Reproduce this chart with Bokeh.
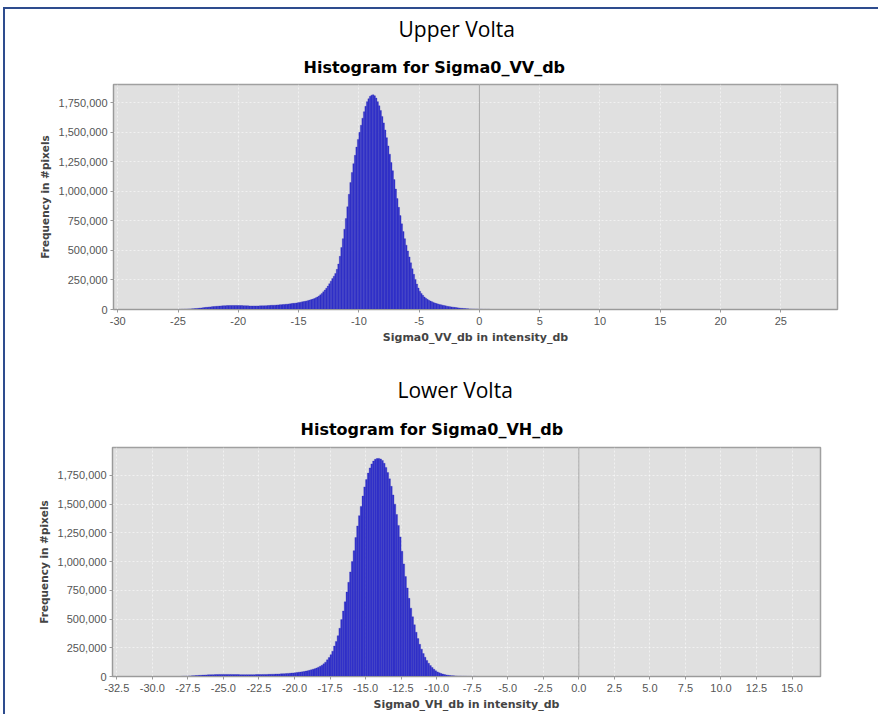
from bokeh.plotting import figure
from bokeh.layouts import column
from bokeh.models import Title, Span, NumeralTickFormatter, Range1d, ColumnDataSource
from bokeh.embed import file_html
from bokeh.resources import INLINE

# ---------------- data ----------------
upper_title = "Upper Volta"
upper_hist_title = "Histogram for Sigma0_VV_db"
upper_xlabel = "Sigma0_VV_db in intensity_db"
vv_bin_start = -25.0
vv_bin_width = 0.125
vv_counts_thousands = [
    1, 1, 2, 2, 3, 3, 4, 5,                              # -25 .. -24
    5, 6, 7, 8, 9, 10, 12, 13,                           # -24 .. -23
    15, 16, 18, 19, 21, 22, 24, 25,                      # -23 .. -22
    26, 27, 28, 29, 30, 31, 32, 32,                      # -22 .. -21
    33, 33, 34, 34, 34, 34, 34, 34,                      # -21 .. -20
    34, 33, 33, 32, 32, 31, 31, 30,                      # -20 .. -19
    30, 30, 30, 30, 30, 30, 31, 31,                      # -19 .. -18
    31, 32, 32, 33, 34, 35, 36, 36,                      # -18 .. -17
    37, 38, 39, 40, 41, 42, 43, 44,                      # -17 .. -16
    45, 47, 48, 50, 52, 53, 55, 57,                      # -16 .. -15
    60, 62, 65, 67, 70, 73, 77, 80,                      # -15 .. -14
    84, 88, 93, 99, 106, 114, 124, 136,                  # -14 .. -13
    150, 165, 180, 198, 218, 240, 262, 282,              # -13 .. -12
    305, 340, 385, 450, 525, 600, 680, 770,              # -12 .. -11
    870, 975, 1075, 1160, 1235, 1305, 1375, 1440,        # -11 .. -10
    1500, 1560, 1620, 1675, 1720, 1760, 1785, 1805,      # -10 .. -9
    1815, 1818, 1810, 1790, 1760, 1725, 1685, 1635,      # -9 .. -8
    1580, 1520, 1455, 1385, 1315, 1245, 1175, 1100,      # -8 .. -7
    1020, 940, 865, 795, 725, 660, 600, 545,             # -7 .. -6
    495, 445, 395, 345, 298, 255, 215, 182,              # -6 .. -5
    155, 136, 120, 106, 95, 86, 78, 72,                  # -5 .. -4
    66, 60, 55, 51, 47, 43, 40, 37,                      # -4 .. -3
    34, 31, 28, 26, 24, 22, 20, 18,                      # -3 .. -2
    16, 14, 13, 11, 10, 9, 8, 7,                         # -2 .. -1
    6, 5, 5, 4, 4, 3, 3, 2,                              # -1 .. 0
    2, 2, 1, 1, 1, 1, 1, 0,                              # 0 .. 1
]
vv_xticks = [-30, -25, -20, -15, -10, -5, 0, 5, 10, 15, 20, 25]
vv_xrange = (-30.35, 29.7)
vv_yrange = (0, 1905000)

lower_title = "Lower Volta"
lower_hist_title = "Histogram for Sigma0_VH_db"
lower_xlabel = "Sigma0_VH_db in intensity_db"
vh_bin_start = -28.0
vh_bin_width = 0.125
vh_counts_thousands = [
    1, 2, 2, 3, 4, 5, 6, 7,                              # -28 .. -27
    8, 9, 10, 11, 12, 13, 14, 15,                        # -27 .. -26
    15, 16, 16, 17, 17, 18, 18, 18,                      # -26 .. -25
    18, 18, 18, 18, 18, 17, 17, 17,                      # -25 .. -24
    17, 16, 16, 16, 16, 16, 16, 16,                      # -24 .. -23
    16, 16, 17, 17, 17, 17, 18, 18,                      # -23 .. -22
    18, 19, 19, 20, 20, 21, 21, 22,                      # -22 .. -21
    23, 24, 25, 26, 27, 28, 30, 31,                      # -21 .. -20
    33, 35, 37, 39, 41, 44, 47, 50,                      # -20 .. -19
    54, 58, 63, 68, 74, 81, 89, 98,                      # -19 .. -18
    110, 125, 145, 165, 190, 220, 265, 305,              # -18 .. -17
    355, 420, 495, 570, 650, 735, 820, 910,              # -17 .. -16
    1000, 1095, 1210, 1310, 1400, 1480, 1570, 1650,      # -16 .. -15
    1715, 1770, 1815, 1850, 1875, 1890, 1897, 1898,      # -15 .. -14
    1893, 1880, 1855, 1820, 1775, 1720, 1655, 1580,      # -14 .. -13
    1500, 1410, 1315, 1215, 1090, 980, 870, 770,         # -13 .. -12
    680, 595, 520, 450, 385, 330, 280, 238,              # -12 .. -11
    200, 168, 140, 115, 95, 78, 63, 50,                  # -11 .. -10
    40, 32, 26, 21, 17, 14, 11, 9,                       # -10 .. -9
    7, 6, 5, 4, 3, 3, 2, 2,                              # -9 .. -8
    2, 1, 1, 1, 1, 1, 0, 0,                              # -8 .. -7
]
vh_xticks = [-32.5, -30.0, -27.5, -25.0, -22.5, -20.0, -17.5, -15.0, -12.5,
             -10.0, -7.5, -5.0, -2.5, 0.0, 2.5, 5.0, 7.5, 10.0, 12.5, 15.0]
vh_xrange = (-32.8, 17.0)
vh_yrange = (0, 1993000)

y_ticks = [0, 250000, 500000, 750000, 1000000, 1250000, 1500000, 1750000]
ylabel = "Frequency in #pixels"

# ---------------- styling helpers ----------------
TICK_FONT = "Liberation Sans"
LABEL_FONT = "DejaVu Sans"


def make_hist(page_title, hist_title, xlabel, bin_start, bin_width, counts_k,
              xticks, xrange_, yrange_, xfmt, width, height,
              mb_left, mb_right, mb_top, mb_bottom,
              off_page, off_hist, so_page, so_hist, styles=None):
    lefts = [bin_start + i * bin_width for i in range(len(counts_k))]
    rights = [l + bin_width for l in lefts]
    tops = [c * 1000 for c in counts_k]
    src = ColumnDataSource(dict(left=lefts, right=rights, top=tops))

    kw = {}
    if styles:
        kw["styles"] = styles
    p = figure(width=width, height=height, output_backend="svg",
               toolbar_location=None, title=None,
               x_range=Range1d(*xrange_), y_range=Range1d(*yrange_),
               min_border_left=mb_left, min_border_right=mb_right,
               min_border_top=mb_top, min_border_bottom=mb_bottom, **kw)
    if hasattr(p, "frame_align"):
        p.frame_align = False

    p.add_layout(Title(text=hist_title, align="left", offset=off_hist,
                       text_font=LABEL_FONT, text_font_size="16px",
                       text_font_style="bold", text_color="#000000",
                       standoff=so_hist), "above")
    p.add_layout(Title(text=page_title, align="left", offset=off_page,
                       text_font="Open Sans", text_font_size="21px",
                       text_font_style="normal", text_color="#000000",
                       standoff=so_page), "above")

    p.background_fill_color = "#E0E0E0"
    p.border_fill_color = "#FFFFFF"
    p.border_fill_alpha = 0.0
    p.outline_line_color = "#A0A0A0"
    p.outline_line_width = 1.5

    p.quad(left="left", right="right", bottom=0, top="top", source=src,
           fill_color="#3333CC", line_color="#2A2AB8", line_width=0.3)

    p.add_layout(Span(location=0, dimension="height", line_color="#A8A8A8",
                      line_width=1))

    p.xaxis.ticker = xticks
    p.yaxis.ticker = y_ticks
    p.xaxis.formatter = NumeralTickFormatter(format=xfmt)
    p.yaxis.formatter = NumeralTickFormatter(format="0,0")

    for ax in (p.xaxis, p.yaxis):
        ax.axis_line_color = "#9A9A9A"
        ax.major_tick_line_color = "#9A9A9A"
        ax.major_tick_out = 3
        ax.major_tick_in = 0
        ax.minor_tick_line_color = None
        ax.major_label_text_font = TICK_FONT
        ax.major_label_text_font_size = "11px"
        ax.major_label_text_color = "#555555"
        ax.axis_label_text_font = LABEL_FONT
        ax.axis_label_text_font_style = "bold"
        ax.axis_label_text_color = "#444444"
    p.xaxis.axis_label = xlabel
    p.xaxis.axis_label_text_font_size = "11px"
    p.xaxis.major_label_standoff = 4
    p.xaxis.axis_label_standoff = 3
    p.yaxis.axis_label = ylabel
    p.yaxis.axis_label_text_font_size = "10.5px"
    p.yaxis.major_label_standoff = 3
    p.yaxis.axis_label_standoff = 5

    for g in (p.xgrid, p.ygrid):
        g.grid_line_color = "#FFFFFF"
        g.grid_line_dash = "2 2"
        g.grid_line_width = 0.8
        g.grid_line_alpha = 0.7
    return p


top = make_hist(upper_title, upper_hist_title, upper_xlabel, vv_bin_start,
                vv_bin_width, vv_counts_thousands, vv_xticks, vv_xrange,
                vv_yrange, "0", width=873, height=363,
                mb_left=108, mb_right=41, mb_top=79, mb_bottom=59,
                off_page=285, off_hist=190, so_page=12, so_hist=15,
                styles={"margin-top": "-4px"})

bottom = make_hist(lower_title, lower_hist_title, lower_xlabel, vh_bin_start,
                   vh_bin_width, vh_counts_thousands, vh_xticks, vh_xrange,
                   vh_yrange, "0.0", width=873, height=346,
                   mb_left=107, mb_right=58, mb_top=79, mb_bottom=38,
                   off_page=285, off_hist=188, so_page=9, so_hist=18)

layout = column(top, bottom, spacing=0,
                styles={"border-top": "2px solid #2E4C8E",
                        "border-left": "2px solid #2E4C8E",
                        "margin-top": "7px",
                        "margin-left": "3px"})

open("out.html", "w").write(file_html(layout, INLINE))
